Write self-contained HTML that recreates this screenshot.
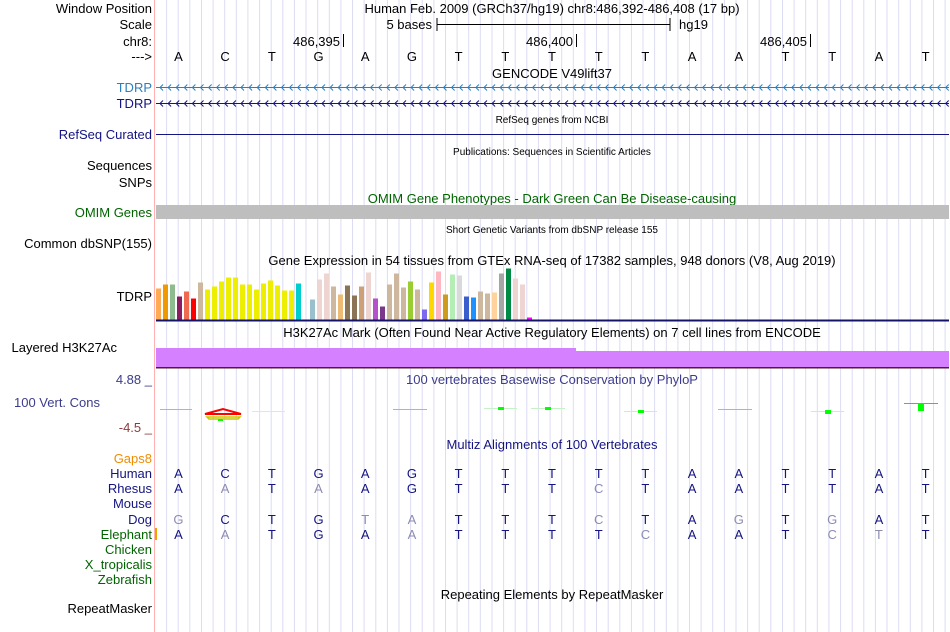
<!DOCTYPE html>
<html><head><meta charset="utf-8"><style>
html,body{margin:0;padding:0;background:#fff;}
svg{display:block;font-family:"Liberation Sans",Arial,sans-serif;}
</style></head><body>
<svg id="s" width="950" height="632" viewBox="0 0 950 632">
<g id="grid"></g>
<line x1="154.5" y1="0" x2="154.5" y2="632" stroke="#ffb0b0" stroke-width="1"/>
<g font-size="13" fill="#000" text-anchor="end">
<text x="152" y="13">Window Position</text>
<text x="152" y="29">Scale</text>
<text x="152" y="46">chr8:</text>
<text x="152" y="61">---&gt;</text>
<text x="152" y="92" fill="#2c7fbe">TDRP</text>
<text x="152" y="108" fill="#141482">TDRP</text>
<text x="152" y="139" fill="#141482">RefSeq Curated</text>
<text x="152" y="170">Sequences</text>
<text x="152" y="187">SNPs</text>
<text x="152" y="217" fill="#006400">OMIM Genes</text>
<text x="152" y="248">Common dbSNP(155)</text>
<text x="152" y="301">TDRP</text>
<text x="117" y="352">Layered H3K27Ac</text>
<text x="152" y="384" fill="#3c3c8c">4.88 _</text>
<text x="100" y="407" fill="#3c3c8c">100 Vert. Cons</text>
<text x="152" y="432" fill="#8c3c3c">-4.5 _</text>
<text x="152" y="463" fill="#f08c00">Gaps8</text>
<text x="152" y="478" fill="#141482">Human</text>
<text x="152" y="493" fill="#141482">Rhesus</text>
<text x="152" y="508" fill="#141482">Mouse</text>
<text x="152" y="524" fill="#141482">Dog</text>
<text x="152" y="539" fill="#006400">Elephant</text>
<text x="152" y="554" fill="#006400">Chicken</text>
<text x="152" y="569" fill="#006400">X_tropicalis</text>
<text x="152" y="584" fill="#006400">Zebrafish</text>
<text x="152" y="613">RepeatMasker</text>
</g>
<g font-size="13" text-anchor="middle">
<text x="552" y="13">Human Feb. 2009 (GRCh37/hg19)   chr8:486,392-486,408 (17 bp)</text>
<text x="552" y="78">GENCODE V49lift37</text>
<text x="552" y="123" font-size="10">RefSeq genes from NCBI</text>
<text x="552" y="155" font-size="10">Publications: Sequences in Scientific Articles</text>
<text x="552" y="203" fill="#006400">OMIM Gene Phenotypes - Dark Green Can Be Disease-causing</text>
<text x="552" y="233" font-size="10">Short Genetic Variants from dbSNP release 155</text>
<text x="552" y="265">Gene Expression in 54 tissues from GTEx RNA-seq of 17382 samples, 948 donors (V8, Aug 2019)</text>
<text x="552" y="337">H3K27Ac Mark (Often Found Near Active Regulatory Elements) on 7 cell lines from ENCODE</text>
<text x="552" y="384" fill="#3c3c8c">100 vertebrates Basewise Conservation by PhyloP</text>
<text x="552" y="449" fill="#141482">Multiz Alignments of 100 Vertebrates</text>
<text x="552" y="599">Repeating Elements by RepeatMasker</text>
</g>
<g font-size="13">
<text x="432" y="29" text-anchor="end">5 bases</text>
<line x1="437" y1="18" x2="437" y2="31" stroke="#000"/>
<line x1="437" y1="24.5" x2="670" y2="24.5" stroke="#000"/>
<line x1="670" y1="18" x2="670" y2="31" stroke="#000"/>
<text x="679" y="29">hg19</text>
<text x="340" y="46" text-anchor="end">486,395</text>
<line x1="343.5" y1="34" x2="343.5" y2="47" stroke="#000"/>
<text x="573" y="46" text-anchor="end">486,400</text>
<line x1="576.5" y1="34" x2="576.5" y2="47" stroke="#000"/>
<text x="807" y="46" text-anchor="end">486,405</text>
<line x1="810.5" y1="34" x2="810.5" y2="47" stroke="#000"/>
</g>
<g id="bases" font-size="13" text-anchor="middle"></g>
<g id="genes">
<line x1="156" y1="87.5" x2="949" y2="87.5" stroke="#2c7fbe"/>
<line x1="156" y1="103.5" x2="949" y2="103.5" stroke="#141482"/>
</g>
<line x1="156" y1="134.5" x2="949" y2="134.5" stroke="#141482"/>
<rect x="156" y="205" width="793" height="14" fill="#bebebe"/>
<g id="gtex"></g>
<rect x="156" y="319.5" width="793" height="2" fill="#141466"/>
<rect x="156" y="348" width="420" height="19" fill="#d580ff"/>
<rect x="576" y="351" width="373" height="16" fill="#d580ff"/>
<rect x="156" y="367" width="793" height="1.5" fill="#5a1a2a"/>
<g id="cons">
<line x1="160" y1="409.5" x2="192" y2="409.5" stroke="#e0a0a0"/>
<path d="M205 414 L223 409 L241 414 Z" fill="none" stroke="#ff0000" stroke-width="2"/>
<path d="M207 417 L240 417 L238 419 L209 419 Z" fill="none" stroke="#c8c800" stroke-width="1.5"/>
<rect x="218" y="419" width="5" height="2" fill="#00ff00"/>
<line x1="252" y1="411.5" x2="285" y2="411.5" stroke="#d0f0d0"/>
<line x1="393" y1="409.5" x2="427" y2="409.5" stroke="#e0a0a0"/>
<line x1="484" y1="408.5" x2="517" y2="408.5" stroke="#c8f0c8"/>
<rect x="498" y="407" width="6" height="3" fill="#00ff00"/>
<line x1="531" y1="408.5" x2="565" y2="408.5" stroke="#c8f0c8"/>
<rect x="545" y="407" width="6" height="3" fill="#00ff00"/>
<line x1="624" y1="411.5" x2="657" y2="411.5" stroke="#c8f0c8"/>
<rect x="638" y="410" width="6" height="3" fill="#00ff00"/>
<line x1="718" y1="409.5" x2="752" y2="409.5" stroke="#e0a0a0"/>
<line x1="811" y1="411.5" x2="844" y2="411.5" stroke="#c8f0c8"/>
<rect x="825" y="410" width="6" height="4" fill="#00ff00"/>
<line x1="904" y1="403.5" x2="938" y2="403.5" stroke="#20e020"/>
<rect x="918" y="403" width="6" height="8" fill="#00ff00"/>
</g>
<rect x="155" y="528" width="2" height="12" fill="#f0a000"/>
<g id="multiz" font-size="13" text-anchor="middle"></g>
</svg>
<script>
var NS="http://www.w3.org/2000/svg";
var seq="ACTGAGTTTTTAATTAT";
var rhesus="AaTaAGTTTcTAATTAT";
var dog="gCTGtaTTTcTAgTgAT";
var eleph="AaTGAaTTTTcAATctT";
var gtexVals=[31,35,35,23,28,21,37,30,33,38,42,42,35,35,30,36,39,34,29,29,36,0,20,40,46,33,25,34,24,33,47,21,13,35,46,32,38,30,10,37,48,25,45,44,23,22,28,26,27,46,51,41,35,2];
var gtexColors=["#ffaa55","#ee9a00","#8fbc8f","#8b1c62","#ee6a50","#ff0000","#cdb79e","#eeee00","#eeee00","#eeee00","#eeee00","#eeee00","#eeee00","#eeee00","#eeee00","#eeee00","#eeee00","#eeee00","#eeee00","#eeee00","#00cdcd","#9ac0cd","#9ac0cd","#eed5d2","#eed5d2","#cdb79e","#eebb77","#8b7355","#8b7355","#cda077","#eed5d2","#b452cd","#7a378b","#cdb79e","#cdb79e","#cdb79e","#9acd32","#cdb79e","#7b68ee","#ffd700","#ffb6c1","#cd9b1d","#b4eeb4","#d9d9d9","#3a5fcd","#1e90ff","#cdb79e","#cdb79e","#ffd39b","#a6a6a6","#008b45","#eed5d2","#eed5d2","#ff00ff"];
function mk(tag,attrs,parent){var e=document.createElementNS(NS,tag);for(var k in attrs)e.setAttribute(k,attrs[k]);parent.appendChild(e);return e;}
var grid=document.getElementById('grid');
for(var x=166.6;x<950;x+=11.62){
 var l=mk('line',{x1:x.toFixed(1),y1:0,x2:x.toFixed(1),y2:632,stroke:'#dcdcf4','stroke-width':1},grid);
 
 
}
var bw=(949-155)/17;
function bx(i){return 155+bw*(i+0.5);}
var bases=document.getElementById('bases');
for(var i=0;i<seq.length;i++){var t=mk('text',{x:bx(i).toFixed(1),y:61},bases);t.textContent=seq[i];
 
 }
var genes=document.getElementById('genes');
[[87.5,'#2c7fbe'],[103.5,'#141482']].forEach(function(r){
 for(var x=160;x<949;x+=8.1){var p=mk('path',{d:'M'+(x+3)+' '+(r[0]-3)+' L'+x+' '+r[0]+' L'+(x+3)+' '+(r[0]+3),fill:'none',stroke:r[1],'stroke-width':1},genes);
 
 }
});
var g=document.getElementById('gtex');var base=319.5,scale=1;
for(var i=0;i<gtexVals.length;i++){
 var h=gtexVals[i]*scale;
 var r=mk('rect',{x:156+i*7,y:(base-h).toFixed(1),width:5,height:h.toFixed(1),fill:gtexColors[i]},g);
 
 
}
var mz=document.getElementById('multiz');
function row(str,y){for(var i=0;i<str.length;i++){var c=str[i];var lower=(c===c.toLowerCase());
 var t=mk('text',{x:bx(i).toFixed(1),y:y,fill:lower?'#8c8cb4':'#141482'},mz);t.textContent=c.toUpperCase();
 
 }}
row(seq,478);row(rhesus,493);row(dog,524);row(eleph,539);
</script>
</body></html>
